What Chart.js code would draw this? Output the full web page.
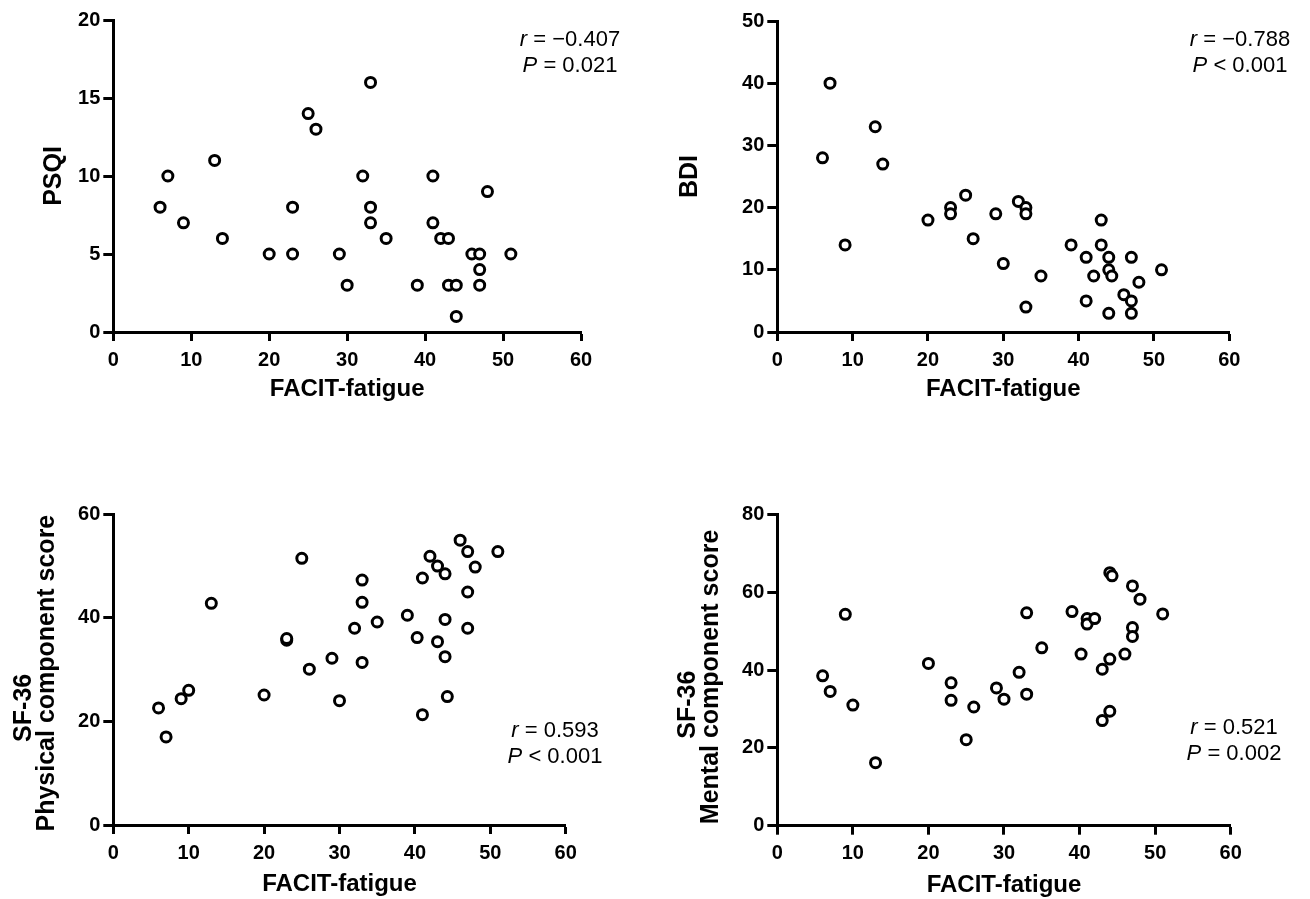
<!DOCTYPE html>
<html>
<head>
<meta charset="utf-8">
<script src="https://cdn.jsdelivr.net/npm/chart.js@4.4.1/dist/chart.umd.min.js"></script>
<style>
  html, body { margin: 0; padding: 0; background: #fff; }
  body { width: 1310px; height: 899px; position: relative; overflow: hidden; font-family: "Liberation Sans", Arial, sans-serif; }
  canvas { position: absolute; }
  .note { position: absolute; font-family: "Liberation Sans", Arial, sans-serif; font-size: 22px; line-height: 26px; color: #000; text-align: center; white-space: nowrap; transform: translateX(-50%); }
  .note i { font-style: italic; }
</style>
</head>
<body>
<canvas id="c1" width="655" height="440" style="left:0px;top:0px;"></canvas>
<canvas id="c2" width="655" height="440" style="left:655px;top:0px;"></canvas>
<canvas id="c3" width="655" height="459" style="left:0px;top:440px;"></canvas>
<canvas id="c4" width="655" height="459" style="left:655px;top:440px;"></canvas>

<div class="note" style="left:570px;top:26px;"><i>r</i> = −0.407<br><i>P</i> = 0.021</div>
<div class="note" style="left:1240px;top:26px;"><i>r</i> = −0.788<br><i>P</i> &lt; 0.001</div>
<div class="note" style="left:555px;top:717px;"><i>r</i> = 0.593<br><i>P</i> &lt; 0.001</div>
<div class="note" style="left:1234px;top:714px;"><i>r</i> = 0.521<br><i>P</i> = 0.002</div>

<script>
// ---- Data ----
const xTitle = "FACIT-fatigue";
const xTicks = [0, 10, 20, 30, 40, 50, 60];

// Panel 1: PSQI
const psqiFatigue = [6,7,9,13,14,20,23,23,25,26,29,30,32,33,33,33,35,39,41,41,42,43,43,44,44,46,47,47,47,48,51];
const psqiValues  = [8,10,7,11,6,5,8,5,14,13,5,3,10,16,8,7,6,3,10,7,6,6,3,3,1,5,5,4,3,9,5];
const psqiTicks = [0, 5, 10, 15, 20];

// Panel 2: BDI
const bdiFatigue = [6,7,9,13,14,20,23,23,25,26,29,30,32,33,33,33,35,39,41,41,42,43,43,44,44,44.4,44,46,47,47,47,48,51];
const bdiValues  = [28,40,14,33,27,18,20,19,22,15,19,11,21,20,19,4,9,14,12,5,9,18,14,12,10,9,3,6,12,5,3,8,10];
const bdiTicks = [0, 10, 20, 30, 40, 50];

// Panel 3: SF-36 physical component score
const pcsFatigue = [6,7,9,10,13,20,23,23,25,26,29,30,32,33,33,33,35,39,40.3,41,41,42,43,43,44,44,44,44.3,46,47,47,47,48,51];
const pcsValues  = [22.6,17.0,24.4,26.0,42.8,25.1,35.7,36.0,51.5,30.1,32.2,24.0,38.0,47.3,43.0,31.4,39.2,40.5,36.2,47.7,21.3,51.9,50.0,35.4,48.5,39.7,32.5,24.8,55.0,52.8,45.0,38.0,49.8,52.8];
const pcsTicks = [0, 20, 40, 60];

// Panel 4: SF-36 mental component score
const mcsFatigue = [6,7,9,10,13,20,23,23,25,26,29,30,32,33,33,35,39,40.2,41,41,42,43,43,44,44.3,44,44,46,47,47,47,48,51];
const mcsValues  = [38.5,34.5,54.3,31.0,16.2,41.7,36.7,32.2,22.1,30.5,35.4,32.5,39.4,54.7,33.8,45.7,55.0,44.1,53.2,51.8,53.2,40.2,27.0,65.0,64.2,29.4,42.8,44.1,61.6,50.9,48.6,58.2,54.4];
const mcsTicks = [0, 20, 40, 60, 80];

// ---- Chart building ----
const FONT = '"Liberation Sans", Arial, sans-serif';

function pts(xs, ys) { return xs.map((x, i) => ({ x: x, y: ys[i] })); }

function makePanel(id, xs, ys, yTicks, yTitle, lay) {
  const yMax = yTicks[yTicks.length - 1];
  new Chart(document.getElementById(id), {
    type: 'scatter',
    data: {
      datasets: [{
        data: pts(xs, ys),
        pointStyle: 'circle',
        pointRadius: 5,
        pointHoverRadius: 5,
        borderWidth: 3,
        borderColor: '#000',
        backgroundColor: '#fff',
        clip: false
      }]
    },
    options: {
      responsive: false,
      animation: false,
      events: [],
      layout: { padding: { left: 0, right: lay.pr, top: lay.pt, bottom: lay.pb } },
      plugins: { legend: { display: false }, tooltip: { enabled: false } },
      scales: {
        x: {
          type: 'linear', min: 0, max: 60,
          afterFit: s => { s.height = lay.xH; },
          afterBuildTicks: s => { s.ticks = xTicks.map(v => ({ value: v })); },
          border: { display: true, color: '#000', width: 3 },
          grid: { display: true, drawOnChartArea: false, drawTicks: true, tickLength: 9, tickWidth: 3, tickColor: '#000' },
          ticks: { color: '#000', padding: 7, font: { family: FONT, size: 20, weight: 'bold' }, maxRotation: 0 },
          title: { display: true, text: xTitle, color: '#000', padding: 0, font: { family: FONT, size: 24, weight: 'bold', lineHeight: '24px' } }
        },
        y: {
          type: 'linear', min: 0, max: yMax,
          afterFit: s => { s.width = lay.yW; },
          afterBuildTicks: s => { s.ticks = yTicks.map(v => ({ value: v })); },
          border: { display: true, color: '#000', width: 3 },
          grid: { display: true, drawOnChartArea: false, drawTicks: true, tickLength: 10, tickWidth: 3, tickColor: '#000' },
          ticks: { color: '#000', padding: 3, font: { family: FONT, size: 20, weight: 'bold' } },
          title: { display: true, text: yTitle, color: '#000', padding: { top: lay.tp, bottom: 0 }, font: { family: FONT, size: 25, weight: 'bold', lineHeight: '23px' } }
        }
      }
    }
  });
}

makePanel('c1', psqiFatigue, psqiValues, psqiTicks, 'PSQI',
  { yW: 113.3, xH: 69.5, pr: 74, pt: 20, pb: 38.5, tp: 42.2 });
makePanel('c2', bdiFatigue, bdiValues, bdiTicks, 'BDI',
  { yW: 122.3, xH: 69.5, pr: 80.7, pt: 21, pb: 38.5, tp: 23.2 });
makePanel('c3', pcsFatigue, pcsValues, pcsTicks,
  ['SF-36           ', 'Physical component score '],
  { yW: 113.3, xH: 71.5, pr: 89.3, pt: 74.3, pb: 2.5, tp: 12.7 });
makePanel('c4', mcsFatigue, mcsValues, mcsTicks,
  ['SF-36          ', 'Mental component score  '],
  { yW: 122.3, xH: 71.5, pr: 79.3, pt: 74.3, pb: 1.8, tp: 21.7 });
</script>
</body>
</html>
